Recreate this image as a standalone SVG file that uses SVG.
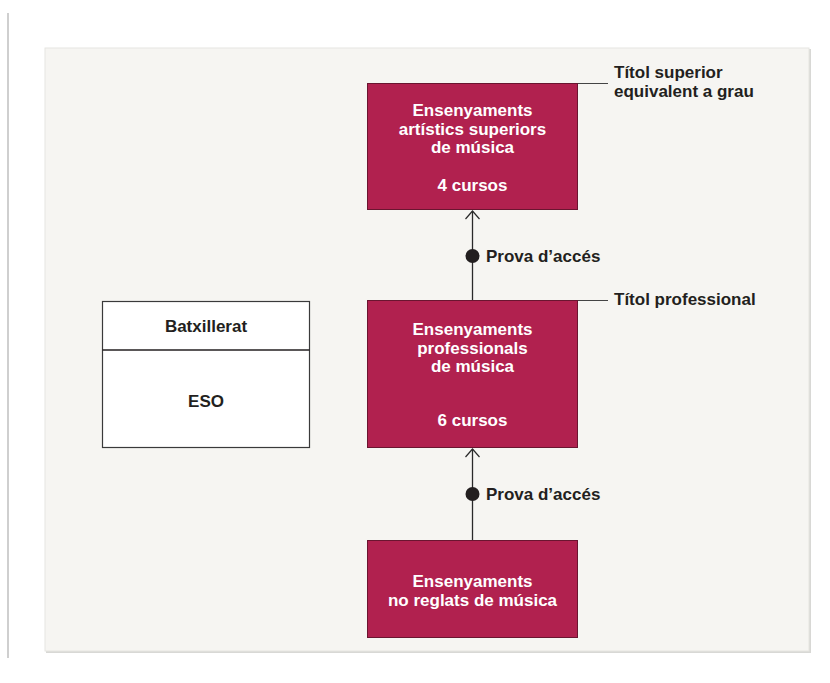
<svg xmlns="http://www.w3.org/2000/svg" width="830" height="683" viewBox="0 0 830 683">
<defs>
<style>
.t{font-family:"Liberation Sans",Arial,sans-serif;font-weight:bold;font-size:17px;fill:#231f20}
.w{font-family:"Liberation Sans",Arial,sans-serif;font-weight:bold;font-size:17px;fill:#ffffff;text-anchor:middle}
.box{fill:#b1214f;stroke:#6a1530;stroke-width:1}
.wbox{fill:#ffffff;stroke:#3a3a3a;stroke-width:1.2}
.ln{stroke:#2a2a2a;stroke-width:1.3;fill:none}
.ld{stroke:#444;stroke-width:1;fill:none}
</style>
<marker id="arr" markerWidth="10" markerHeight="16" refX="9" refY="8" orient="auto" markerUnits="userSpaceOnUse" viewBox="0 0 10 16">
<path d="M1,1 L9,8 L1,15" fill="none" stroke="#2a2a2a" stroke-width="1.2"/>
</marker>
</defs>
<rect x="0" y="0" width="830" height="683" fill="#ffffff"/>
<rect x="7" y="13" width="2" height="645" fill="#cfcfcf"/>
<g id="panel">
<rect x="46" y="49" width="765" height="604" fill="#d8d8d5"/>
<rect x="45" y="48" width="764" height="603" fill="#f6f5f2" stroke="#e6e5e1" stroke-width="1"/>
</g>
<g id="connectors">
<line class="ln" x1="472.5" y1="300" x2="472.5" y2="211" marker-end="url(#arr)"/>
<line class="ln" x1="472.5" y1="540" x2="472.5" y2="449" marker-end="url(#arr)"/>
<line class="ld" x1="578" y1="83.5" x2="608" y2="83.5"/>
<line class="ld" x1="578" y1="300.5" x2="608" y2="300.5"/>
</g>
<g id="node-superiors">
<rect class="box" x="367.5" y="83.5" width="210" height="126"/>
<text class="w" x="472.5" y="116">Ensenyaments</text>
<text class="w" x="472.5" y="135">artístics superiors</text>
<text class="w" x="472.5" y="153">de música</text>
<text class="w" x="472.5" y="191">4 cursos</text>
</g>
<g id="label-titol-superior">
<text class="t" x="614" y="78">Títol superior</text>
<text class="t" x="614" y="97">equivalent a grau</text>
</g>
<g id="prova-1">
<circle cx="472.5" cy="256" r="7" fill="#231f20"/>
<text class="t" x="486" y="262">Prova d’accés</text>
</g>
<g id="node-professionals">
<rect class="box" x="367.5" y="300.5" width="210" height="147"/>
<text class="w" x="472.5" y="335">Ensenyaments</text>
<text class="w" x="472.5" y="354">professionals</text>
<text class="w" x="472.5" y="372">de música</text>
<text class="w" x="472.5" y="426">6 cursos</text>
</g>
<g id="label-titol-professional">
<text class="t" x="614" y="305">Títol professional</text>
</g>
<g id="prova-2">
<circle cx="472.5" cy="494" r="7" fill="#231f20"/>
<text class="t" x="486" y="500">Prova d’accés</text>
</g>
<g id="node-noreglats">
<rect class="box" x="367.5" y="540.5" width="210" height="97"/>
<text class="w" x="472.5" y="587">Ensenyaments</text>
<text class="w" x="472.5" y="606">no reglats de música</text>
</g>
<g id="node-batx-eso">
<rect class="wbox" x="102.5" y="301.5" width="207" height="146"/>
<line x1="102.5" y1="350" x2="309.5" y2="350" stroke="#231f20" stroke-width="1.6"/>
<text class="t" x="206" y="332" text-anchor="middle">Batxillerat</text>
<text class="t" x="206" y="407" text-anchor="middle">ESO</text>
</g>
</svg>
